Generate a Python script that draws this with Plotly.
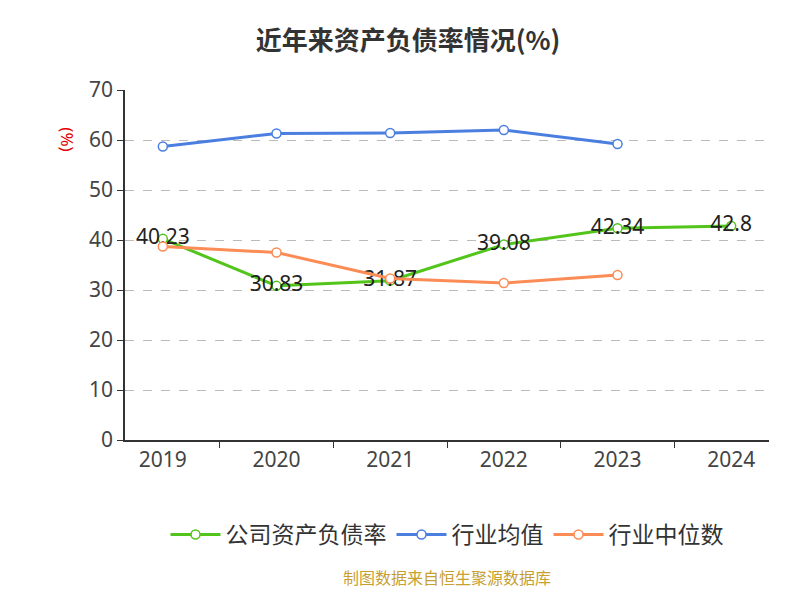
import plotly.graph_objects as go

years = ["2019", "2020", "2021", "2022", "2023", "2024"]
company = [40.23, 30.83, 31.87, 39.08, 42.34, 42.8]
industry_avg = [58.7, 61.3, 61.4, 62.0, 59.2]
industry_med = [38.7, 37.5, 32.3, 31.4, 33.0]

mk = dict(size=9, color="white")
fig = go.Figure()
fig.add_trace(go.Scatter(x=years, y=company, name="公司资产负债率", mode="lines+markers+text",
    text=[str(v) for v in company], textposition="middle center", textfont=dict(size=21, color="#222"),
    line=dict(color="#52c41a", width=3), marker=dict(**mk, line=dict(color="#52c41a", width=1.5))))
fig.add_trace(go.Scatter(x=years[:5], y=industry_avg, name="行业均值", mode="lines+markers",
    line=dict(color="#4a7fe0", width=3), marker=dict(**mk, line=dict(color="#4a7fe0", width=1.5))))
fig.add_trace(go.Scatter(x=years[:5], y=industry_med, name="行业中位数", mode="lines+markers",
    line=dict(color="#fb8c55", width=3), marker=dict(**mk, line=dict(color="#fb8c55", width=1.5))))

fig.update_layout(
    width=800, height=600, plot_bgcolor="white", paper_bgcolor="white",
    font=dict(family="Noto Sans, Noto Sans CJK SC", size=21, color="#444"),
    title=dict(text="<b>近年来资产负债率情况(%)</b>", x=0.5, y=0.96, xanchor="center",
               font=dict(family="Noto Sans CJK SC", size=26, color="#333")),
    margin=dict(l=117, r=39, t=82, b=168),
    showlegend=True,
    legend=dict(orientation="h", x=0.5, xanchor="center", y=-0.27, yanchor="middle",
                font=dict(family="Noto Sans CJK SC", size=23, color="#333"), itemwidth=50),
    xaxis=dict(showline=True, linecolor="#333", linewidth=1.5, ticks="outside", tickcolor="#333", ticklen=6,
               tickson="boundaries", tickfont=dict(size=21, color="#444")),
    yaxis=dict(range=[0, 70], dtick=10, showgrid=True, gridcolor="#bbb", griddash="dash", showline=True,
               linecolor="#333", linewidth=1.5, ticks="outside", tickcolor="#333", ticklen=6, zeroline=False,
               tickfont=dict(size=21, color="#444")),
    annotations=[
        dict(text="(%)", x=-0.11, y=0.9, xref="paper", yref="paper", textangle=90, showarrow=False,
             font=dict(size=17, color="#e00000")),
        dict(text="制图数据来自恒生聚源数据库", x=0.5, y=-0.43, xref="paper", yref="paper", showarrow=False,
             font=dict(family="Noto Sans CJK SC", size=16, color="#c8a030")),
    ],
)
fig.write_html("out.html")
